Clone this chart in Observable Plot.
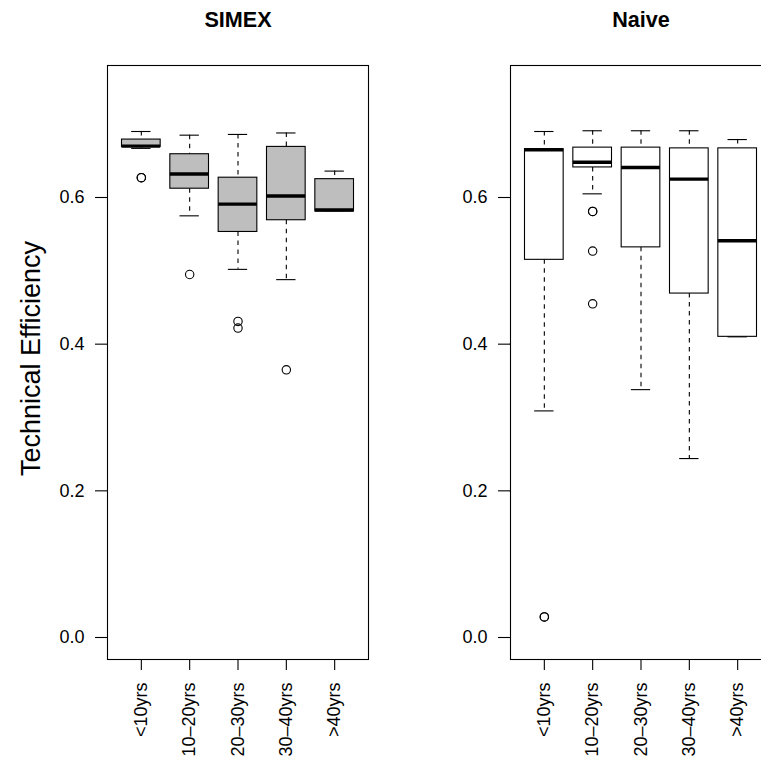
<!DOCTYPE html>
<html><head><meta charset="utf-8">
<script src="https://cdn.jsdelivr.net/npm/d3@7"></script>
<script src="https://cdn.jsdelivr.net/npm/@observablehq/plot@0.6"></script>
<style>
html,body{margin:0;padding:0;background:#fff;overflow:hidden;width:761px;height:763px;}
#wrap{position:relative;width:761px;height:763px;overflow:hidden;}
.panel{position:absolute;top:0;}
</style></head><body><div id="wrap"></div>
<script>
const groups = ["<10yrs", "10–20yrs", "20–30yrs", "30–40yrs", ">40yrs"];
const yTicks = [0, 0.2, 0.4, 0.6];
const panelTitles = ["SIMEX", "Naive"];
const yLabel = "Technical Efficiency";

const simexLowerWhisker = [0.667, 0.575, 0.502, 0.488, 0.582];
const simexQ1 = [0.669, 0.612, 0.553, 0.569, 0.581];
const simexMedian = [0.670, 0.632, 0.591, 0.602, 0.583];
const simexQ3 = [0.679, 0.659, 0.627, 0.669, 0.625];
const simexUpperWhisker = [0.690, 0.685, 0.686, 0.688, 0.636];
const simexOutliers = [[0.627, 0.627], [0.495], [0.431, 0.422], [0.365], []];

const naiveLowerWhisker = [0.309, 0.605, 0.338, 0.244, 0.410];
const naiveQ1 = [0.515, 0.641, 0.532, 0.469, 0.410];
const naiveMedian = [0.665, 0.648, 0.641, 0.625, 0.541];
const naiveQ3 = [0.666, 0.668, 0.668, 0.667, 0.667];
const naiveUpperWhisker = [0.690, 0.691, 0.691, 0.691, 0.679];
const naiveOutliers = [[0.028, 0.028], [0.581, 0.581, 0.527, 0.455], [], [], []];

const FONT = "'Liberation Sans', Arial, Helvetica, sans-serif";
const LW = 1.1;

function panel({title, lw, q1, med, q3, uw, outl, fill, width, marginLeft, withYLabel}) {
  const boxes = groups.map((g, i) => ({pos: i + 1, lw: lw[i], q1: q1[i], med: med[i], q3: q3[i], uw: uw[i]}));
  const pts = outl.flatMap((arr, i) => arr.map(v => ({pos: i + 1, v})));
  const half = 0.4, staple = 0.2;
  const marks = [
    Plot.ruleX(boxes, {x: "pos", y1: "uw", y2: "q3", stroke: "#000", strokeWidth: LW, strokeDasharray: "4.5,4.5"}),
    Plot.ruleX(boxes, {x: "pos", y1: "q1", y2: "lw", stroke: "#000", strokeWidth: LW, strokeDasharray: "4.5,4.5"}),
    Plot.ruleY(boxes, {y: "uw", x1: d => d.pos - staple, x2: d => d.pos + staple, stroke: "#000", strokeWidth: LW}),
    Plot.ruleY(boxes, {y: "lw", x1: d => d.pos - staple, x2: d => d.pos + staple, stroke: "#000", strokeWidth: LW}),
    Plot.rect(boxes, {x1: d => d.pos - half, x2: d => d.pos + half, y1: "q1", y2: "q3", fill, stroke: "#000", strokeWidth: LW}),
    Plot.ruleY(boxes, {y: "med", x1: d => d.pos - half, x2: d => d.pos + half, stroke: "#000", strokeWidth: 3.4}),
    Plot.dot(pts, {x: "pos", y: "v", r: 4.2, stroke: "#000", strokeWidth: LW, fill: "none"}),
    Plot.frame({stroke: "#000", strokeWidth: LW}),
    Plot.axisY(yTicks, {tickSize: 12, tickPadding: 11, tickFormat: d3.format(".1f"), fontSize: 18, label: null, strokeWidth: LW}),
    Plot.axisX([1, 2, 3, 4, 5], {tickSize: 11, tickPadding: 12, tickRotate: -90, tickFormat: d => groups[d - 1], fontSize: 18, label: null, strokeWidth: LW}),
    Plot.text([title], {frameAnchor: "top", dy: -39, lineAnchor: "bottom", fontWeight: "bold", fontSize: 21.6})
  ];
  if (withYLabel) {
    marks.push(Plot.text([yLabel], {frameAnchor: "left", dx: -76, dy: -4, rotate: -90, fontSize: 27, textAnchor: "middle", lineAnchor: "middle"}));
  }
  return Plot.plot({
    width, height: 763,
    marginLeft, marginRight: width - marginLeft - 261, marginTop: 65, marginBottom: 104,
    x: {domain: [0.3, 5.7], label: null},
    y: {domain: [-0.03, 0.78], label: null},
    style: {fontFamily: FONT, fontSize: "18px", color: "#000", background: "transparent", maxWidth: "none", overflow: "visible"},
    marks
  });
}

const wrap = document.getElementById("wrap");
const left = document.createElement("div");
left.className = "panel"; left.style.left = "0px"; left.style.width = "380px";
left.appendChild(panel({title: panelTitles[0], lw: simexLowerWhisker, q1: simexQ1, med: simexMedian, q3: simexQ3, uw: simexUpperWhisker, outl: simexOutliers, fill: "#bebebe", width: 380, marginLeft: 107, withYLabel: true}));
const right = document.createElement("div");
right.className = "panel"; right.style.left = "380px"; right.style.width = "401px";
right.appendChild(panel({title: panelTitles[1], lw: naiveLowerWhisker, q1: naiveQ1, med: naiveMedian, q3: naiveQ3, uw: naiveUpperWhisker, outl: naiveOutliers, fill: "#fff", width: 401, marginLeft: 130, withYLabel: false}));
wrap.appendChild(left);
wrap.appendChild(right);
</script>
</body></html>
